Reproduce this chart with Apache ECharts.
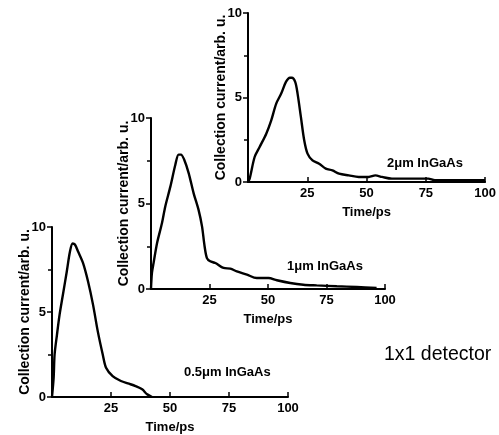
<!DOCTYPE html>
<html>
<head>
<meta charset="utf-8">
<script src="https://cdn.jsdelivr.net/npm/echarts@6/dist/echarts.min.js"></script>
<style>
html,body{margin:0;padding:0;background:#fff;}
#main{width:499px;height:435px;}
</style>
</head>
<body>
<div id="main"></div>
<script>
// 0.5um InGaAs
var t05=[0,0.7,1.1,2.1,3.2,4.6,6.25,7.6,8.75,9.7,11.1,13.2,15.3,17.4,19.4,21.5,22.9,25.7,29.2,32.6,35.4,38.2,40.3,42.4];
var i05=[0,1.13,2.5,3.66,4.83,6.0,7.37,8.54,9.03,8.97,8.54,7.86,6.78,5.42,3.86,2.5,1.72,1.23,0.94,0.78,0.64,0.45,0.16,0];
// 1um InGaAs
var t1=[0,0.4,1.1,2.6,4.7,6.1,8.3,10.4,11.8,12.8,14.2,16.1,18.2,20.3,21.8,22.9,23.9,25.3,27.5,31,33.9,36.7,41,45.2,50.2,53.8,59.5,65.1,70.8,79.4,87.9,96.4];
var i1=[0,0.94,1.52,2.69,3.86,4.83,6.0,7.27,7.86,7.86,7.56,6.78,5.61,4.64,3.66,2.5,1.81,1.62,1.52,1.23,1.19,1.03,0.84,0.64,0.64,0.51,0.35,0.25,0.21,0.16,0.12,0.06];
// 2um InGaAs
var t2=[0,0.7,2.8,4.9,7.7,9.8,11.9,14,16,17.7,18.5,19.9,20.9,22.3,23.7,25.1,27.2,30,32.8,35.6,38.4,42.5,46.7,50.9,53.7,56.5,60.7,66.2,71.8,76,78.8,87.2,91.4,100];
var i2=[0,0.2,1.48,2.07,2.86,3.65,4.64,5.23,5.92,6.17,6.17,5.92,5.23,3.85,2.47,1.68,1.28,1.08,0.79,0.69,0.49,0.39,0.3,0.3,0.39,0.3,0.2,0.2,0.2,0.2,0.1,0.1,0.1,0.1];

var xTicks=[25,50,75,100];
var yTicks=[0,5,10];
var labels=["0.5\u03bcm InGaAs","1\u03bcm InGaAs","2\u03bcm InGaAs"];
var yName="Collection current/arb. u.";
var xName="Time/ps";
var note="1x1 detector";

function pairs(xs,ys){
  var out=[];
  for(var k=0;k<xs.length;k++){ out.push([xs[k],ys[k]]); }
  return out;
}

var font='"Liberation Sans", Arial, sans-serif';
var lbl={color:'#000',fontFamily:font,fontWeight:'bold',fontSize:13};

// three staggered panels
var grids=[
  {left:52,top:227,width:236,height:170},
  {left:151,top:118,width:234,height:171},
  {left:248,top:13,width:239,height:169}
];

var xAxes=[],yAxes=[],series=[];
var curves=[pairs(t05,i05),pairs(t1,i1),pairs(t2,i2)];
for(var g=0;g<3;g++){
  xAxes.push({
    gridIndex:g,type:'value',min:0,max:100,interval:25,
    name:xName,nameLocation:'middle',nameGap:24,nameMoveOverlap:false,
    nameTextStyle:lbl,
    axisLine:{show:true,lineStyle:{color:'#000',width:2}},
    axisTick:{show:true,inside:true,length:5,lineStyle:{color:'#000',width:1.5}},
    axisLabel:{color:'#000',fontFamily:font,fontWeight:'bold',fontSize:13,margin:5,
      formatter:function(v){ return xTicks.indexOf(v)>=0 ? String(v) : ''; }},
    splitLine:{show:false}
  });
  yAxes.push({
    gridIndex:g,type:'value',min:0,max:10,interval:5,
    name:yName,nameLocation:'middle',nameGap:20,nameRotate:90,nameMoveOverlap:false,
    nameTextStyle:{color:'#000',fontFamily:font,fontWeight:'bold',fontSize:14},
    axisLine:{show:true,lineStyle:{color:'#000',width:2}},
    axisTick:{show:true,length:5,lineStyle:{color:'#000',width:1.5}},
    minorTick:{show:true,splitNumber:2,length:4,lineStyle:{color:'#000',width:1.5}},
    axisLabel:{color:'#000',fontFamily:font,fontWeight:'bold',fontSize:13,margin:6,
      formatter:function(v){ return yTicks.indexOf(v)>=0 ? String(v) : ''; }},
    splitLine:{show:false},
    minorSplitLine:{show:false}
  });
  series.push({
    type:'line',xAxisIndex:g,yAxisIndex:g,
    data:curves[g],smooth:0.3,showSymbol:false,animation:false,
    lineStyle:{color:'#000',width:2.4}
  });
}

var myChart=echarts.init(document.getElementById('main'));
var option={
  backgroundColor:'#fff',
  animation:false,
  grid:grids,
  xAxis:xAxes,
  yAxis:yAxes,
  series:series,
  graphic:[
    {type:'text',left:184,top:366,style:{text:labels[0],fill:'#000',font:'bold 13px '+font}},
    {type:'text',left:287,top:260,style:{text:labels[1],fill:'#000',font:'bold 13px '+font}},
    {type:'text',left:387,top:157,style:{text:labels[2],fill:'#000',font:'bold 13px '+font}},
    {type:'text',left:384,top:345,style:{text:note,fill:'#000',font:'19.5px '+font}}
  ]
};
myChart.setOption(option);
</script>
</body>
</html>
